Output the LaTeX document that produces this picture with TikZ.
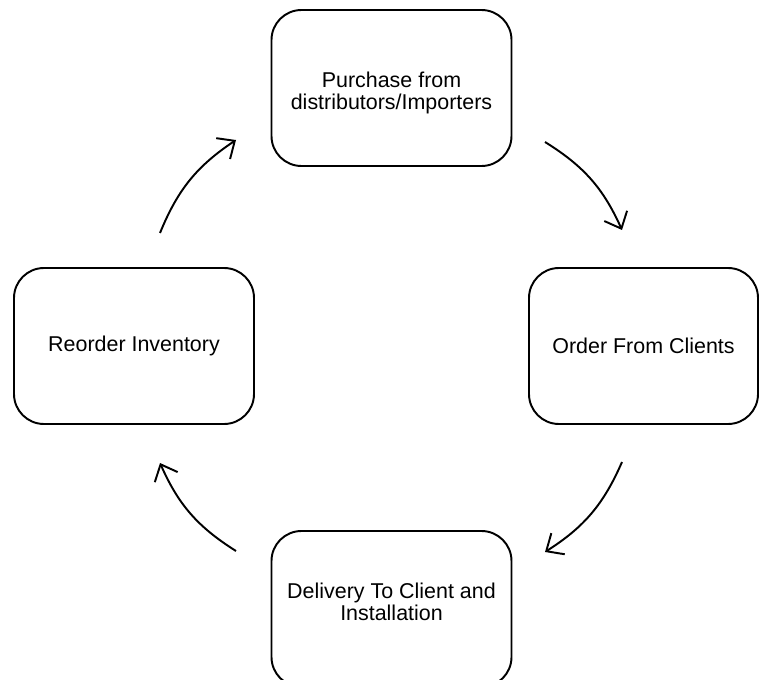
\documentclass[tikz,border=0pt]{standalone}
\usepackage{fontspec}
\setmainfont{Liberation Sans}
\usetikzlibrary{arrows.meta}
\begin{document}
\begin{tikzpicture}[
		stage/.style = {draw, line width = 1.1pt, rounded corners = 0.6cm, minimum width = 4.8cm, minimum height = 3.12cm, align = center, font = \fontsize{12.2}{12.5}\selectfont},
		flow/.style = {line width = 1.1pt, -{Straight Barb[length = 2.8mm, width = 5mm]}, bend left = 17}
	]
			\useasboundingbox (0,0) rectangle (15.18,-13.6);
			\node[stage, text height = 0.94cm] (purchase) at (7.83,-1.76) {Purchase from\\distributors/Importers};
			\node[stage, minimum width = 4.58cm] (order) at (12.87,-6.92) {Order From Clients};
			\node[stage, text depth = 0.3cm] (delivery) at (7.83,-12.18) {Delivery To Client and\\Installation};
			\node[stage] (reorder) at (2.68,-6.92) {Reorder Inventory};
			% ends of the arrows
			\coordinate (p1) at (10.9,-2.84);
			\coordinate (o1) at (12.44,-4.6);
			\coordinate (o2) at (12.44,-9.24);
			\coordinate (d1) at (10.9,-11.04);
			\coordinate (d2) at (4.72,-11.02);
			\coordinate (r1) at (3.2,-9.26);
			\coordinate (r2) at (3.2,-4.66);
			\coordinate (p2) at (4.72,-2.8);
			\draw[flow] (p1) to (o1);
			\draw[flow] (o2) to (d1);
			\draw[flow] (d2) to (r1);
			\draw[flow] (r2) to (p2);
		\end{tikzpicture}
\end{document}
